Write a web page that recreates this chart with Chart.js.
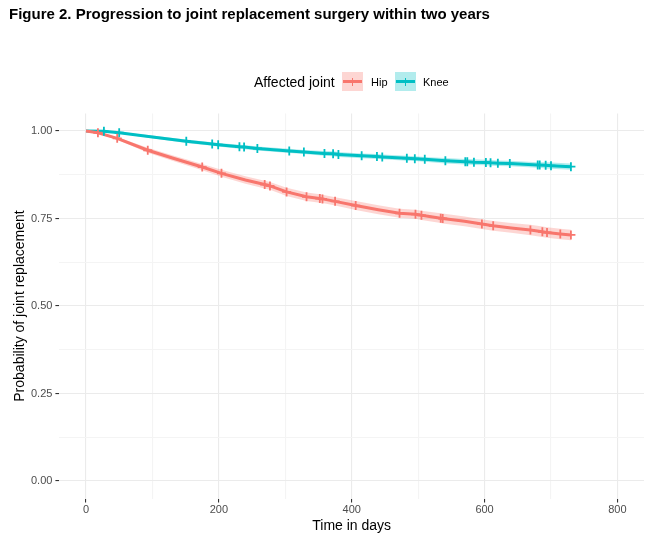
<!DOCTYPE html>
<html>
<head>
<meta charset="utf-8">
<script src="https://cdn.jsdelivr.net/npm/chart.js@4.4.1/dist/chart.umd.min.js"></script>
<style>
  body { margin: 0; background: #fff; font-family: "Liberation Sans", Arial, sans-serif; }
  #wrap { position: relative; width: 662px; height: 540px; }
  #chart { position: absolute; left: 0; top: 0; }
  .txt { position: absolute; white-space: nowrap; color: #000; }
  #title { left: 9px; top: 4.6px; font-size: 15px; font-weight: bold; line-height: 17px; }
  #legend-title { left: 254px; top: 72px; font-size: 14px; line-height: 20px; }
  .key { position: absolute; top: 72px; width: 21px; height: 19px; }
  .key .h { position: absolute; left: 1px; right: 1px; top: 8px; height: 3px; }
  .key .v { position: absolute; left: 9.6px; width: 1.8px; top: 5.5px; height: 8px; }
  .lab { top: 72px; font-size: 11px; line-height: 20px; }
</style>
</head>
<body>
<div id="wrap">
  <canvas id="chart" width="662" height="540"></canvas>
  <div id="title" class="txt">Figure 2. Progression to joint replacement surgery within two years</div>
  <div id="legend-title" class="txt">Affected joint</div>
  <div class="key" style="left:342px;background:rgba(248,118,109,0.3)"><div class="h" style="background:#F8766D"></div><div class="v" style="background:#F8766D"></div></div>
  <div class="txt lab" style="left:371px">Hip</div>
  <div class="key" style="left:395px;background:rgba(0,191,196,0.3)"><div class="h" style="background:#00BFC4"></div><div class="v" style="background:#00BFC4"></div></div>
  <div class="txt lab" style="left:423px">Knee</div>
</div>
<script>
// Hip: time (days), survival estimate, censored flag, half width of the 95% band
const hipTime   = [0, 18, 47, 93, 130, 175, 204, 240, 269, 277, 302, 332, 352, 356, 375, 406, 440, 472, 496, 505, 534, 537, 570, 596, 613, 640, 669, 687, 694, 714, 730];
const hipSurv   = [1.000, 0.995, 0.979, 0.945, 0.923, 0.897, 0.879, 0.860, 0.847, 0.843, 0.826, 0.812, 0.807, 0.806, 0.799, 0.787, 0.775, 0.765, 0.762, 0.759, 0.751, 0.750, 0.742, 0.734, 0.729, 0.723, 0.717, 0.712, 0.710, 0.706, 0.703];
const hipCensor = [0, 1, 1, 1, 0, 1, 1, 0, 1, 1, 1, 1, 1, 1, 1, 1, 0, 1, 1, 1, 1, 1, 0, 1, 1, 0, 1, 1, 1, 1, 1];
const hipBand   = [0, 0.002, 0.004, 0.007, 0.008, 0.009, 0.010, 0.011, 0.011, 0.011, 0.012, 0.012, 0.012, 0.012, 0.012, 0.013, 0.013, 0.013, 0.013, 0.013, 0.014, 0.014, 0.014, 0.014, 0.014, 0.014, 0.015, 0.015, 0.015, 0.015, 0.015];

// Knee
const kneeTime   = [0, 27, 50, 100, 151, 190, 199, 231, 238, 258, 306, 328, 359, 372, 380, 415, 438, 446, 483, 495, 510, 541, 571, 574, 584, 602, 609, 620, 638, 680, 683, 692, 700, 730];
const kneeSurv   = [1.000, 0.999, 0.995, 0.983, 0.971, 0.963, 0.961, 0.955, 0.954, 0.950, 0.943, 0.940, 0.936, 0.935, 0.933, 0.929, 0.927, 0.926, 0.922, 0.921, 0.919, 0.915, 0.912, 0.912, 0.911, 0.910, 0.909, 0.908, 0.907, 0.903, 0.903, 0.902, 0.901, 0.898];
const kneeCensor = [0, 1, 1, 0, 1, 1, 1, 1, 1, 1, 1, 1, 1, 1, 1, 1, 1, 1, 1, 1, 1, 1, 1, 1, 1, 1, 1, 1, 1, 1, 1, 1, 1, 1];
const kneeBand   = [0, 0.001, 0.002, 0.004, 0.005, 0.005, 0.005, 0.006, 0.006, 0.006, 0.006, 0.006, 0.007, 0.007, 0.007, 0.007, 0.007, 0.007, 0.007, 0.007, 0.007, 0.008, 0.008, 0.008, 0.008, 0.008, 0.008, 0.008, 0.008, 0.008, 0.008, 0.009, 0.009, 0.009];

const xTicks = [0, 100, 200, 300, 400, 500, 600, 700, 800];
const xLabels = [0, 200, 400, 600, 800];
const yTicks = [0, 0.125, 0.25, 0.375, 0.5, 0.625, 0.75, 0.875, 1];
const yLabels = [0, 0.25, 0.5, 0.75, 1];

const HIP = "#F8766D";
const KNEE = "#00BFC4";

function pts(times, vals) {
  return times.map((t, i) => ({ x: t, y: vals[i] }));
}
function censored(times, vals, flags) {
  return times.map((t, i) => ({ x: t, y: vals[i] })).filter((p, i) => flags[i]);
}

function bandSets(times, surv, band, color) {
  return [
    { data: pts(times, surv.map((s, i) => s - band[i])), borderWidth: 0, pointRadius: 0, fill: false, order: 3 },
    { data: pts(times, surv.map((s, i) => s + band[i])), borderWidth: 0, pointRadius: 0, fill: "-1", backgroundColor: color, order: 3 }
  ];
}

const isMajor = (list, v) => list.some(m => Math.abs(m - v) < 1e-9);

new Chart(document.getElementById("chart"), {
  type: "line",
  data: {
    datasets: [
      ...bandSets(hipTime, hipSurv, hipBand, "rgba(248,118,109,0.3)"),
      ...bandSets(kneeTime, kneeSurv, kneeBand, "rgba(0,191,196,0.3)"),
      { data: pts(hipTime, hipSurv), borderColor: HIP, borderWidth: 3, pointRadius: 0, tension: 0, order: 2 },
      { data: pts(kneeTime, kneeSurv), borderColor: KNEE, borderWidth: 3, pointRadius: 0, tension: 0, order: 2 },
      { data: censored(hipTime, hipSurv, hipCensor), showLine: false, pointStyle: "cross", pointRadius: 4.5, borderColor: HIP, borderWidth: 1.8, order: 1 },
      { data: censored(kneeTime, kneeSurv, kneeCensor), showLine: false, pointStyle: "cross", pointRadius: 4.5, borderColor: KNEE, borderWidth: 1.8, order: 1 }
    ]
  },
  options: {
    responsive: false,
    animation: false,
    layout: { padding: { left: 0, right: 18, top: 113.5, bottom: 0 } },
    plugins: { legend: { display: false }, tooltip: { enabled: false } },
    scales: {
      x: {
        type: "linear",
        min: -40,
        max: 840,
        afterBuildTicks: scale => { scale.ticks = xTicks.map(v => ({ value: v })); },
        afterFit: scale => { scale.height = 41.5; },
        border: { display: false },
        grid: {
          color: ctx => isMajor(xLabels, ctx.tick.value) ? "#EBEBEB" : "#F4F4F4",
          tickColor: ctx => isMajor(xLabels, ctx.tick.value) ? "#333333" : "rgba(0,0,0,0)",
          lineWidth: 1.1,
          tickLength: 4
        },
        ticks: {
          autoSkip: false,
          maxRotation: 0,
          padding: 1,
          color: "#4D4D4D",
          font: { family: "Liberation Sans", size: 11 },
          callback: v => isMajor(xLabels, v) ? String(v) : ""
        },
        title: {
          display: true,
          text: "Time in days",
          color: "#000",
          font: { family: "Liberation Sans", size: 14 },
          padding: { top: 0, bottom: 5 }
        }
      },
      y: {
        type: "linear",
        min: -0.05,
        max: 1.05,
        afterBuildTicks: scale => { scale.ticks = yTicks.map(v => ({ value: v })); },
        afterFit: scale => { scale.width = 59.4; },
        border: { display: false },
        grid: {
          color: ctx => isMajor(yLabels, ctx.tick.value) ? "#EBEBEB" : "#F4F4F4",
          tickColor: ctx => isMajor(yLabels, ctx.tick.value) ? "#333333" : "rgba(0,0,0,0)",
          lineWidth: 1.1,
          tickLength: 4
        },
        ticks: {
          autoSkip: false,
          padding: 3,
          color: "#4D4D4D",
          font: { family: "Liberation Sans", size: 11 },
          callback: v => isMajor(yLabels, v) ? v.toFixed(2) : ""
        },
        title: {
          display: true,
          text: "Probability of joint replacement",
          color: "#000",
          font: { family: "Liberation Sans", size: 14 },
          padding: { top: 11.6, bottom: 0 }
        }
      }
    }
  }
});
</script>
</body>
</html>
